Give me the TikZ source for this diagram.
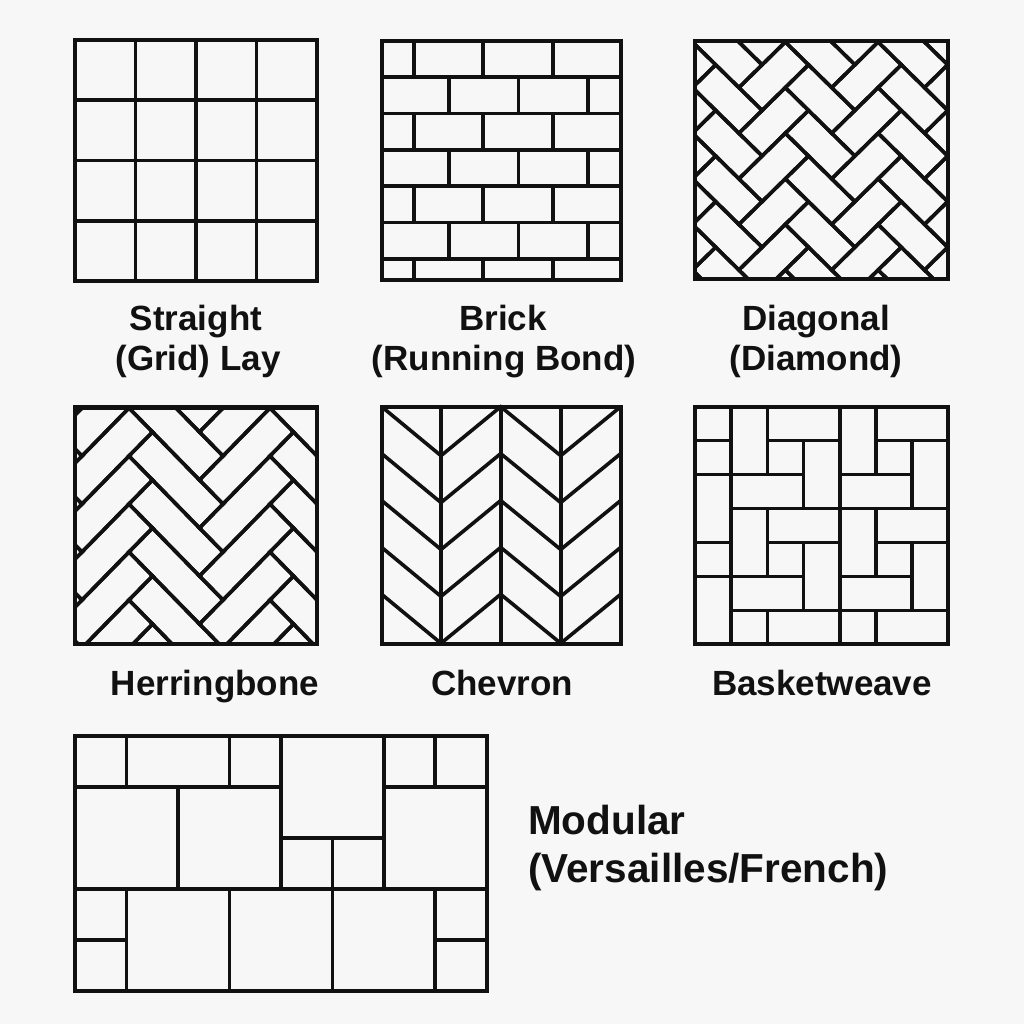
\documentclass[tikz,border=0pt]{standalone}
\usepackage{fontspec}
\setmainfont{Liberation Sans}
\definecolor{bgc}{HTML}{F7F7F7}
\definecolor{ink}{HTML}{111111}
\tikzset{
  tile/.style={draw=ink, line width=3.6pt, line join=miter},
  frame/.style={draw=ink, line width=4.2pt},
  lbl/.style={font=\bfseries\fontsize{35}{40}\selectfont, text=ink, inner sep=0pt, anchor=base},
  biglbl/.style={font=\bfseries\fontsize{40.5}{45}\selectfont, text=ink, inner sep=0pt, anchor=base west},
}
\newcommand\herringtiles[1]{%
  \foreach \m in {-4,...,4}{%
    \foreach \k in {-7,...,11}{%
      \draw[tile] ({\k+#1*(\m)},{\k-#1*(\m)}) -- ({\k+#1*(\m)+#1},{\k-#1*(\m)}) -- ({\k+#1*(\m)+#1},{\k-#1*(\m)+1}) -- ({\k+#1*(\m)},{\k-#1*(\m)+1}) -- cycle;
      \draw[tile] ({\k+#1+#1*(\m)},{\k+1-#1-#1*(\m)}) -- ({\k+#1+1+#1*(\m)},{\k+1-#1-#1*(\m)}) -- ({\k+#1+1+#1*(\m)},{\k+1-#1*(\m)}) -- ({\k+#1+#1*(\m)},{\k+1-#1*(\m)}) -- cycle;
    }}}
\begin{document}
\begin{tikzpicture}[x=1pt,y=-1pt]
\fill[bgc] (0,0) rectangle (1024,1024);
\useasboundingbox (0,0) rectangle (1024,1024);

% ---------- Straight (grid)
\foreach \i in {1,2,3}{
  \draw[tile] ({75+60.5*\i},40) -- ({75+60.5*\i},281);
  \draw[tile] (75,{40+60.25*\i}) -- (317,{40+60.25*\i});
}
\draw[frame] (75,40) rectangle (317,281);

% ---------- Brick
\foreach \j in {1,...,6}{
  \draw[tile] (381.7,{40.7+36.4*\j}) -- (620.7,{40.7+36.4*\j});
}
\foreach \r in {0,...,6}{
  \pgfmathsetmacro\ya{40.7+36.4*\r}
  \pgfmathsetmacro\yb{min(40.7+36.4*(\r+1),280)}
  \pgfmathsetmacro\xo{mod(\r,2)==0 ? 413.7 : 448.8}
  \foreach \i in {0,1,2}{
    \draw[tile] ({\xo+69.5*\i},\ya) -- ({\xo+69.5*\i},\yb);
  }
}
\draw[frame] (381.7,40.7) rectangle (620.7,280);

% ---------- Diagonal
\begin{scope}
  \clip (695,41) rectangle (947.7,279.3);
  \begin{scope}[shift={(785.3,42)}, x={(-23.2pt,-22.8pt)}, y={(23.2pt,-22.8pt)}]
    \herringtiles{2}
  \end{scope}
\end{scope}
\draw[frame] (695,41) rectangle (947.7,279.3);

% ---------- Herringbone
\begin{scope}
  \clip (75,407.5) rectangle (316.7,644.3);
  \begin{scope}[shift={(270,408)}, x={(-23.5pt,-24pt)}, y={(23.5pt,-24pt)}]
    \herringtiles{3}
  \end{scope}
\end{scope}
\draw[frame] (75,407.5) rectangle (316.7,644.3);

% ---------- Chevron
\foreach \xx in {441,500.7,560.7}{
  \draw[tile] (\xx,406.7) -- (\xx,644.3);
}
\foreach \k in {0,...,4}{
  \pgfmathsetmacro\yt{406.7+46.9*\k}
  \pgfmathsetmacro\yv{\yt+49}
  \draw[tile] (381.7,\yt) -- (441,\yv) -- (500.7,\yt) -- (560.7,\yv) -- (620.7,\yt);
}
\draw[frame] (381.7,406.7) rectangle (620.7,644.3);

% ---------- Basketweave
\foreach \a/\b/\c/\d in {0/0/1/1,1/0/2/2,2/0/4/1,4/0/5/2,5/0/7/1,
  0/1/1/2,2/1/3/2,3/1/4/3,5/1/6/2,6/1/7/3,
  0/2/1/4,1/2/3/3,4/2/6/3,
  1/3/2/5,2/3/4/4,4/3/5/5,5/3/7/4,
  0/4/1/5,2/4/3/5,3/4/4/6,5/4/6/5,6/4/7/6,
  0/5/1/7,1/5/3/6,4/5/6/6,
  1/6/2/7,2/6/4/7,4/6/5/7,5/6/7/7}{
  \draw[tile] ({695+36.19*\a},{406.7+33.94*\b}) rectangle ({695+36.19*\c},{406.7+33.94*\d});
}
\draw[frame] (695,406.7) rectangle (948.3,644.3);

% ---------- Modular (Versailles)
\foreach \a/\b/\c/\d in {0/0/1/1,1/0/3/1,3/0/4/1,4/0/6/2,6/0/7/1,7/0/8/1,
  0/1/2/3,2/1/4/3,4/2/5/3,5/2/6/3,6/1/8/3,
  0/3/1/4,0/4/1/5,1/3/3/5,3/3/5/5,5/3/7/5,7/3/8/4,7/4/8/5}{
  \draw[tile] ({75+51.46*\a},{736+50.94*\b}) rectangle ({75+51.46*\c},{736+50.94*\d});
}
\draw[frame] (75,736) rectangle (486.7,990.7);

% ---------- Labels
\node[lbl] (l1a) at (196,330) {Straight};
\node[lbl] (l1b) at (198,370) {(Grid) Lay};
\node[lbl] (l2a) at (503,330) {Brick};
\node[lbl] (l2b) at (504,370) {(Running Bond)};
\node[lbl] (l3a) at (816,330) {Diagonal};
\node[lbl] (l3b) at (816,370) {(Diamond)};
\node[lbl] (l4) at (215,695) {Herringbone};
\node[lbl] (l5) at (502,695) {Chevron};
\node[lbl] (l6) at (822,695) {Basketweave};
\node[biglbl] (l7a) at (528,834) {Modular};
\node[biglbl] (l7b) at (528,882) {(Versailles/French)};
\end{tikzpicture}
\end{document}
